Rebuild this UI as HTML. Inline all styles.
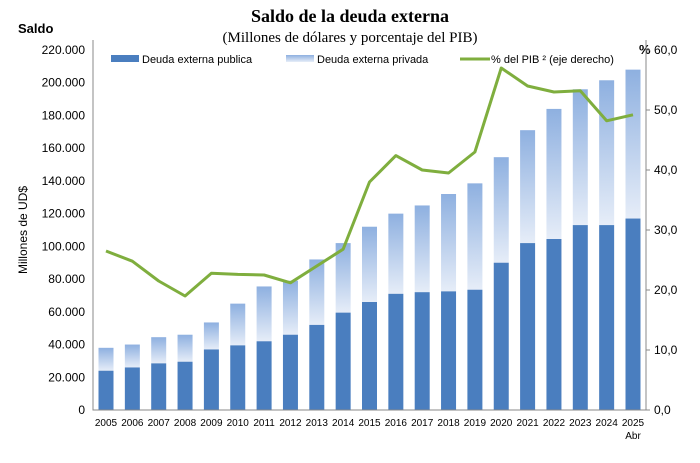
<!DOCTYPE html>
<html><head><meta charset="utf-8"><style>
body{margin:0;background:#fff;font-family:"Liberation Sans",sans-serif}
svg text{font-family:"Liberation Sans",sans-serif}
</style></head><body>
<svg width="700" height="458" viewBox="0 0 700 458">
<defs><linearGradient id="g" x1="0" y1="0" x2="0" y2="1"><stop offset="0" stop-color="#8eb0e0"/><stop offset="1" stop-color="#e6edf8"/></linearGradient></defs>
<text x="350" y="22" text-anchor="middle" font-family="Liberation Serif" font-weight="bold" font-size="18" style="font-family:'Liberation Serif',serif">Saldo de la deuda externa</text>
<text x="350" y="42" text-anchor="middle" font-size="15" style="font-family:'Liberation Serif',serif">(Millones de dólares y porcentaje del PIB)</text>
<text x="18" y="33" font-size="13" font-weight="bold">Saldo</text>
<text x="639" y="54" font-size="13" font-weight="bold">%</text>
<text transform="translate(27,230) rotate(-90)" text-anchor="middle" font-size="12">Millones de UD$</text>
<g id="plot"></g>
<g>
<rect x="111" y="55" width="28" height="7" fill="#4a7ebf"/>
<text x="142" y="63" font-size="11">Deuda externa publica</text>
<rect x="286" y="55" width="28" height="7" fill="url(#g)"/>
<text x="317" y="63" font-size="11">Deuda externa privada</text>
<line x1="460" y1="59" x2="490" y2="59" stroke="#7fae3e" stroke-width="3"/>
<text x="491" y="63" font-size="11">% del PIB ² (eje derecho)</text>
</g>
</svg>
<script>
const years=["2005","2006","2007","2008","2009","2010","2011","2012","2013","2014","2015","2016","2017","2018","2019","2020","2021","2022","2023","2024","2025"];
const totalDebt=[38000,40000,44500,46000,53500,65000,75500,79000,92000,102000,112000,120000,125000,132000,138500,154500,171000,184000,196000,201500,208000];
const publicDebt=[24000,26000,28500,29500,37000,39500,42000,46000,52000,59500,66000,71000,72000,72500,73500,90000,102000,104500,113000,113000,117000];
const pibPct=[26.5,24.8,21.5,19,22.8,22.6,22.5,21.2,24,26.8,38,42.4,40,39.5,43,57,54,53,53.2,48.2,49.2];
const leftTicks=[0,20000,40000,60000,80000,100000,120000,140000,160000,180000,200000,220000];
const rightTicks=[0,10,20,30,40,50,60];
const NS="http://www.w3.org/2000/svg";
const g=document.getElementById('plot');
const x0=93,x1=646,yb=410,yt=50;
const xs=i=>x0+13+i*((x1-x0-26)/(years.length-1));
const yl=v=>yb-(v/220000)*(yb-yt);
const yr=v=>yb-(v/60)*(yb-yt);
function mk(t,a){const e=document.createElementNS(NS,t);for(const k in a)e.setAttribute(k,a[k]);g.appendChild(e);return e;}
const fmt=v=>v.toLocaleString('de-DE');
leftTicks.forEach(v=>{const e=mk('text',{x:x0-8,y:yl(v)+4,'text-anchor':'end','font-size':12});e.textContent=fmt(v);

});
rightTicks.forEach(v=>{const e=mk('text',{x:x1+8,y:yr(v)+4,'font-size':12});e.textContent=v.toFixed(1).replace('.',',');


const t=mk('line',{x1:x1,x2:x1+4,y1:yr(v),y2:yr(v),stroke:'#888'});});
years.forEach((y,i)=>{const cx=xs(i),w=15;
const r1=mk('rect',{x:cx-w/2,y:yl(totalDebt[i]),width:w,height:yl(publicDebt[i])-yl(totalDebt[i]),fill:'url(#g)'});


const r2=mk('rect',{x:cx-w/2,y:yl(publicDebt[i]),width:w,height:yb-yl(publicDebt[i]),fill:'#4a7ebf'});


const t=mk('text',{x:cx,y:yb+16,'text-anchor':'middle','font-size':10});t.textContent=y;

});
const ab=mk('text',{x:xs(20),y:yb+29,'text-anchor':'middle','font-size':10});ab.textContent='Abr';


const ax=mk('path',{d:`M${x0} ${yt-10}V${yb}H${x1}V${yt-10}`,fill:'none',stroke:'#888'});


const ln=mk('polyline',{points:pibPct.map((v,i)=>xs(i)+','+yr(v)).join(' '),fill:'none',stroke:'#7fae3e','stroke-width':3,'stroke-linejoin':'round'});


</script>
</body></html>
